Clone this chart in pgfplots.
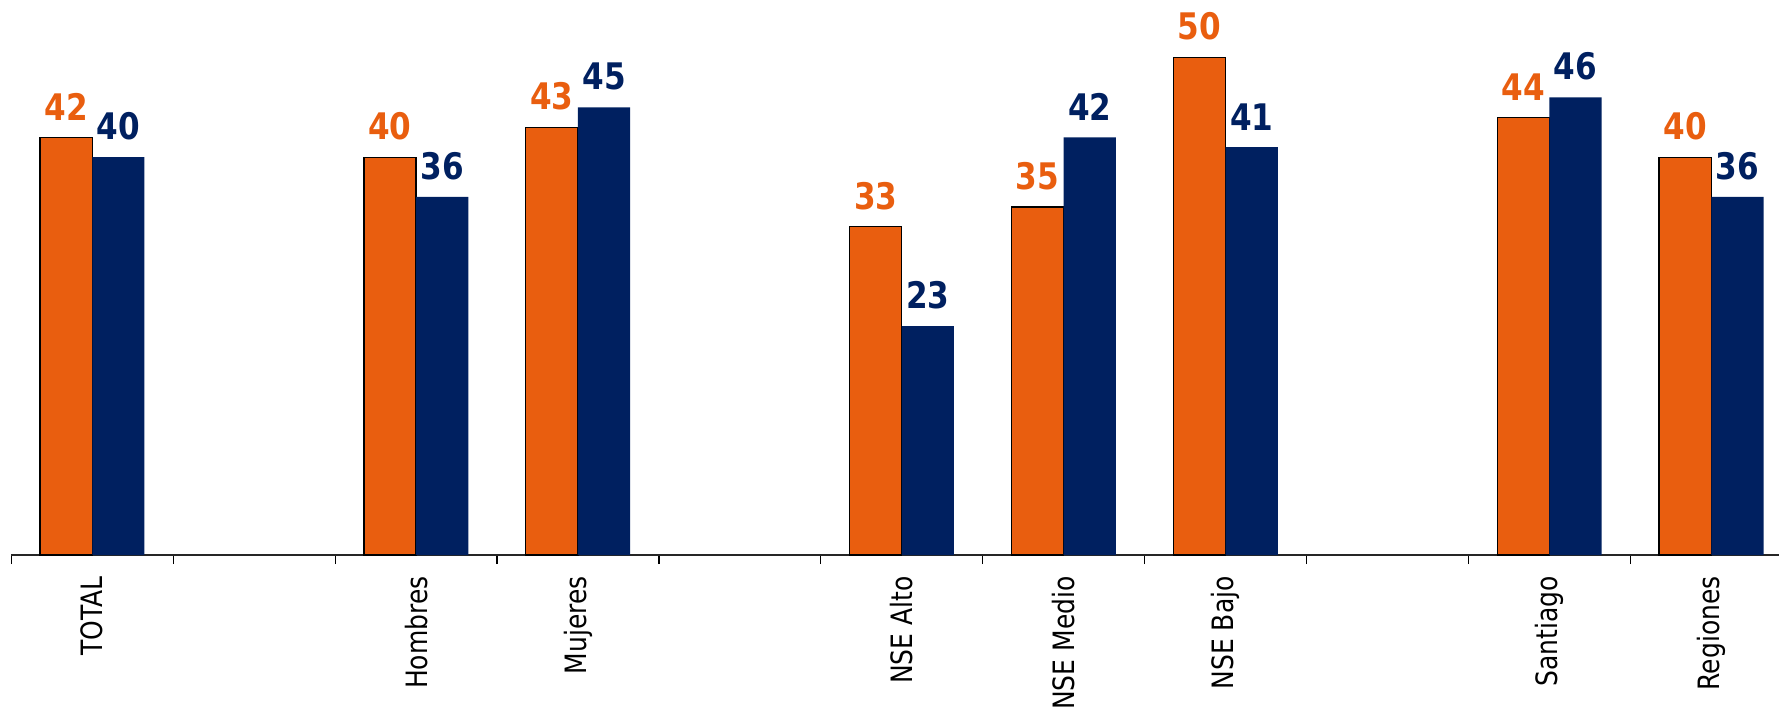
\documentclass[border=0pt]{standalone}
\usepackage{fontspec}
\setmainfont{DejaVu Sans}[FakeStretch=0.85]
\usepackage{pgfplots}
\pgfplotsset{compat=1.18}
\definecolor{naranja}{HTML}{E95E0F}
\definecolor{azul}{HTML}{002060}
\begin{document}
\begin{tikzpicture}
\begin{axis}[
  scale only axis, width=883.85pt, height=277.5pt,
  xmin=-0.5, xmax=10.418, ymin=0, ymax=55.8,
  axis x line*=bottom, hide y axis,
  x axis line style={line width=0.7pt, color=black!85},
  xtick={0,2,3,5,6,7,9,10},
  xticklabels={TOTAL,Hombres,Mujeres,NSE Alto,NSE Medio,NSE Bajo,Santiago,Regiones},
  minor xtick={-0.5,0.5,...,9.5},
  major tick length=0pt, minor tick length=4.5pt, tick align=outside,
  tick style={black, line width=0.6pt},
  xticklabel style={rotate=90, anchor=east, inner sep=0pt, font=\fontsize{14.7pt}{16pt}\selectfont},
  xticklabel shift=10.5pt,
  /pgf/number format/assume math mode=true,
  ybar, bar width=0.3224,
  nodes near coords,
  every node near coord/.append style={anchor=south, inner sep=0pt, yshift=8.3pt, draw=none, fill=none, font=\bfseries\fontsize{18.3pt}{20pt}\selectfont},
  clip=false,
]
\addplot[fill=naranja, draw=black, line width=0.65pt, bar shift=-0.1612,
  every node near coord/.append style={text=naranja}]
  coordinates {(0,42) (2,40) (3,43) (5,33) (6,35) (7,50) (9,44) (10,40)};
\addplot[fill=azul, draw=none, bar shift=0.1612,
  every node near coord/.append style={text=azul}]
  coordinates {(0,40) (2,36) (3,45) (5,23) (6,42) (7,41) (9,46) (10,36)};
\coordinate (bl) at (rel axis cs:0,0);
\coordinate (tr) at (rel axis cs:1,1);
\end{axis}
\pgfresetboundingbox
\path[use as bounding box] ([xshift=-5.65pt,yshift=-77pt]bl) rectangle (tr);
\end{tikzpicture}
\end{document}
